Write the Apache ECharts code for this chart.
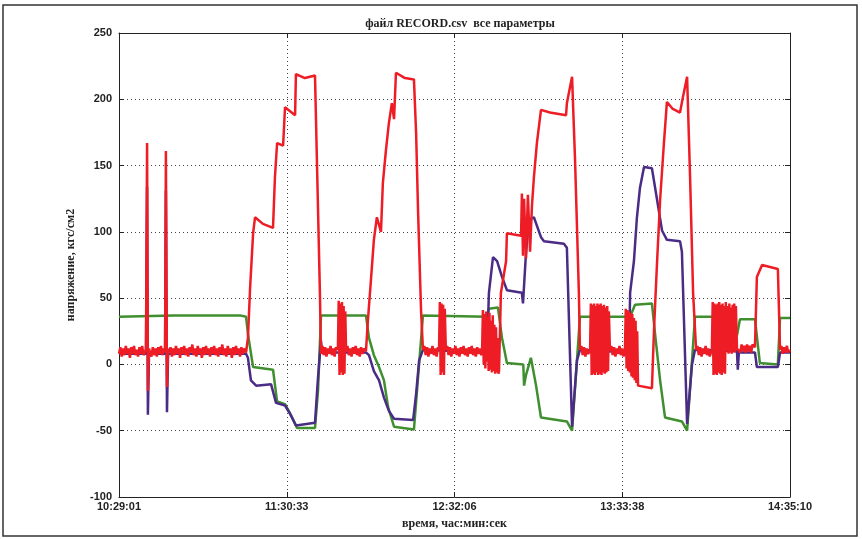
<!DOCTYPE html>
<html>
<head>
	<meta charset="utf-8">
	<title>RECORD.csv</title>
	<script src="https://cdn.jsdelivr.net/npm/echarts@6/dist/echarts.min.js"></script>
	<style>
	html, body { margin: 0; height: 100%; background: #fff; }
	#main { width: 862px; height: 539px; }
	</style>
</head>
<body>
	<div id="main"></div>
	<script>
		// время в минутах от 10:29:01, значения в кгс/см2
		var startSec = 10 * 3600 + 29 * 60 + 1;
		var xMax = 246.15;
		var xTickStep = 61.5375;
		var yTicks = [-100, -50, 0, 50, 100, 150, 200, 250];

		var green = [
			[0,36],[20,37],[44.4,37],[46.6,36],[47.3,23],[49.2,-2],[56.5,-4],[58.0,-28],[60.9,-30],
			[63.5,-40],[65.3,-48],[71.9,-48],[73.0,-20],[74.1,37],[90.6,37],[91.7,20],[93.5,7],
			[95.4,-2],[97.2,-12],[98.7,-32],[100.9,-47],[108.2,-49],[109.7,-10],[111.5,37],[135.0,36],
			[135.7,42],[139.0,43],[140.5,20],[142.3,1],[148.3,0],[148.6,-16],[149.3,-8],[151.1,5],
			[153.0,-16],[154.8,-40],[164.3,-43],[166.2,-50],[168.0,3],[169.1,36],[187.5,36],[189.3,45],
			[195.5,46],[196.6,24],[198.5,-12],[200.3,-40],[206.5,-43],[208.4,-50],[210.2,3],[211.3,36],
			[223.0,36],[224.5,20],[226.7,22],[227.8,34],[233.3,34],[235.1,1],[241.7,0],[242.5,35],[246.15,35]
		];

		var purple = [
			[0,8],[9.9,8],[10.3,134],[10.6,-38],[11.0,8],[16.9,8],[17.2,131],[17.6,-36],[18.0,8],
			[46.6,8],[47.3,5],[48.4,-12],[50.3,-16],[55.8,-15],[57.6,-29],[60.9,-31],[62.7,-37],
			[64.9,-46],[71.9,-44],[73.0,-10],[74.1,18],[74.5,9],[90.6,9],[91.7,7],[93.5,-5],[95.4,-12],
			[97.2,-25],[99.0,-35],[100.9,-41],[107.9,-42],[109.0,-22],[110.1,3],[111.5,11],[135.0,9],
			[135.7,54],[137.2,81],[138.7,78],[140.5,66],[142.3,56],[147.8,54],[148.2,46],[149.3,84],
			[150.4,109],[152.2,111],[154.8,96],[155.9,93],[163.2,91],[164.3,88],[166.2,-47],[168.0,3],
			[169.1,11],[187.1,9],[187.5,54],[188.9,78],[190.0,111],[191.1,133],[192.6,149],[195.5,148],
			[197.4,124],[199.2,101],[201.0,94],[205.8,93],[206.5,85],[208.4,-45],[210.2,0],[211.3,11],
			[226.7,10],[227.0,-4],[227.4,9],[233.3,9],[234.0,-2],[241.7,-2],[242.5,9],[246.15,9]
		];

		var red = [
			[0,8],[0.5,13],[1.0,6],[1.5,12],[2.0,7],[2.5,14],[3.0,8],[3.5,12],[4.0,5],[4.5,13],[5.0,8],
			[5.5,14],[6.0,7],[6.5,11],[7.0,6],[7.5,13],[8.0,8],[8.5,14],[9.0,7],[9.5,9],[9.9,12],
			[10.3,167],[10.6,-20],[11.0,12],[11.4,9],
			[11.9,6],[12.4,13],[12.9,7],[13.4,12],[13.9,6],[14.4,13],[14.9,8],[15.4,14],[15.9,7],[16.4,12],[16.9,9],
			[17.2,161],[17.6,-17],[18.0,12],[18.4,9],[18.9,13],[19.4,6],[19.9,12],[20.4,7],[20.9,14],
			[21.4,8],[21.9,12],[22.4,5],[22.9,13],[23.4,8],[23.9,14],[24.4,7],[24.9,12],[25.4,6],
			[25.9,13],[26.4,9],[26.9,15],[27.4,7],[27.9,12],[28.4,6],[28.9,14],[29.4,8],[29.9,12],
			[30.4,5],[30.9,13],[31.4,7],[31.9,14],[32.4,8],[32.9,12],[33.4,6],[33.9,13],[34.4,8],
			[34.9,14],[35.4,7],[35.9,12],[36.4,6],[36.9,13],[37.4,8],[37.9,15],[38.4,7],[38.9,12],
			[39.4,6],[39.9,14],[40.4,8],[40.9,12],[41.4,5],[41.9,13],[42.4,7],[42.9,14],[43.4,8],
			[43.9,12],[44.4,6],[44.9,13],[45.4,8],[45.9,12],[46.6,9],
			[47.3,20],[48.1,58],[49.2,99],[49.9,111],[52.8,106],[56.5,103],[57.2,141],[58.0,167],
			[60.2,165],[60.9,194],[64.6,188],[64.9,219],[68.2,216],[71.9,218],[72.6,154],[73.7,54],
			[74.1,8],[74.6,14],[75.1,7],[75.6,13],[76.1,6],[76.6,12],[77.1,8],[77.6,14],[78.1,7],
			[78.6,12],[79.1,6],[79.6,13],[80.3,11],
			[80.6,48],[80.9,-8],[81.2,46],[81.5,-6],[81.8,47],[82.1,-8],[82.4,44],[82.7,-7],[83.0,40],[83.3,10],
			[83.8,14],[84.3,7],[84.8,12],[85.3,6],[85.8,13],[86.3,8],[86.8,14],[87.3,7],[87.8,12],
			[88.3,6],[88.8,13],[89.3,8],[89.8,12],[90.6,10],
			[91.3,33],[92.4,63],[93.5,94],[94.6,111],[96.1,100],[96.8,137],[97.9,161],[99.0,182],
			[100.1,197],[100.9,185],[101.6,220],[104.9,216],[108.2,215],[109.0,174],[109.7,116],
			[110.8,41],[111.5,11],[112.0,14],[112.5,7],[113.0,13],[113.5,6],[114.0,12],[114.5,8],
			[115.0,14],[115.5,7],[116.0,12],[116.5,6],[117.0,13],[117.4,11],
			[117.7,47],[118.0,-8],[118.3,46],[118.6,-6],[118.9,45],[119.2,-8],[119.5,42],[119.9,11],
			[120.4,14],[120.9,7],[121.4,13],[121.9,6],[122.4,12],[122.9,8],[123.4,14],[123.9,7],
			[124.4,12],[124.9,6],[125.4,13],[125.9,8],[126.4,14],[126.9,7],[127.4,12],[127.9,6],
			[128.4,13],[128.9,8],[129.4,14],[129.9,7],[130.4,12],[130.9,6],[131.4,13],[131.9,8],
			[132.4,12],[132.9,7],[133.2,10],
			[133.5,41],[133.8,0],[134.1,38],[134.4,-3],[134.7,40],[135.0,2],[135.3,36],[135.6,-5],
			[135.9,39],[136.2,-4],[136.5,33],[136.8,-6],[137.1,37],[137.4,-5],[137.7,30],[138.0,-7],
			[138.3,28],[138.6,-6],[138.9,20],[139.2,-7],[139.4,-5],
			[140.1,54],[142.0,78],[142.3,99],[147.5,97],[147.8,129],[148.2,82],[148.6,125],
			[149.3,80],[150.0,128],[150.8,85],[151.5,120],[152.2,141],[153.3,167],[154.8,192],
			[158.1,190],[164.0,188],[164.3,197],[166.2,217],[167.3,154],[168.7,54],[169.1,11],
			[169.6,14],[170.1,7],[170.6,13],[171.1,6],[171.6,12],[172.1,8],[172.8,10],
			[173.1,46],[173.4,-8],[173.7,45],[174.0,-7],[174.3,46],[174.6,-8],[174.9,44],[175.2,-6],
			[175.5,46],[175.8,-8],[176.1,45],[176.4,-7],[176.7,46],[177.0,-8],[177.3,44],[177.6,-6],
			[177.9,45],[178.2,-7],[178.5,43],[178.8,-6],[179.1,44],[179.4,-5],[179.7,40],[180.1,10],
			[180.6,14],[181.1,7],[181.6,13],[182.1,6],[182.6,12],[183.1,8],[183.6,14],[184.1,7],
			[184.6,12],[185.1,6],[185.6,10],
			[185.9,42],[186.2,-3],[186.5,41],[186.8,-5],[187.1,40],[187.4,-6],[187.7,39],[188.0,-9],
			[188.3,38],[188.6,-10],[188.9,35],[189.2,-12],[189.5,33],[189.8,-14],[190.1,25],[190.4,-16],
			[190.8,-17],[195.5,-18],[196.3,28],[197.4,78],[198.5,124],[199.9,167],[201.0,198],[203.0,193],
			[205.8,190],[206.9,202],[208.4,217],[209.5,141],[210.6,54],[211.7,11],
			[212.2,14],[212.7,7],[213.2,13],[213.7,6],[214.2,12],[214.7,8],[215.2,14],[215.7,7],
			[216.2,12],[216.7,6],[217.5,11],
			[217.8,47],[218.1,-8],[218.4,46],[218.7,-7],[219.0,45],[219.3,-8],[219.6,46],[219.9,-6],
			[220.2,47],[220.5,-7],[220.8,45],[221.1,-8],[221.4,46],[221.7,-6],[222.0,44],[222.3,-7],
			[222.6,47],[223.0,10],[223.3,44],[223.6,8],[223.9,46],[224.2,9],[224.5,43],[224.8,8],
			[225.1,45],[225.4,10],[225.7,46],[226.0,9],[226.3,44],[226.7,12],[227.4,13],
			[227.9,9],[228.4,15],[228.9,10],[229.4,14],[229.9,9],[230.4,15],[230.9,10],[231.4,14],
			[231.9,9],[232.4,15],[233.3,13],[234.0,66],[235.9,75],[241.7,72],[242.5,11],
			[243.0,14],[243.5,8],[244.0,13],[244.5,9],[245.0,14],[245.5,9],[246.15,11]
		];

		function fmtTime(m) {
			var s = Math.round(startSec + m * 60);
			var h = Math.floor(s / 3600), mi = Math.floor(s / 60) % 60, se = s % 60;
			return h + ':' + (mi < 10 ? '0' : '') + mi + ':' + (se < 10 ? '0' : '') + se;
		}

		var myChart = echarts.init(document.getElementById('main'));

		var dotted = { show: true, lineStyle: { color: '#444', type: [1, 3], width: 1 } };
		var tickLabel = { fontFamily: 'Liberation Sans', fontWeight: 'bold', fontSize: 11, color: '#222' };
		var nameFont = { fontFamily: 'Liberation Serif', fontWeight: 'bold', fontSize: 12, color: '#222' };
		var frameLine = { show: true, onZero: false, lineStyle: { color: '#222', width: 1 } };
		var inTick = { show: true, inside: true, length: 5, lineStyle: { color: '#222' } };

		var option = {
			animation: false,
			backgroundColor: '#fff',
			title: {
				text: 'файл RECORD.csv  все параметры',
				left: 455, top: 13, textAlign: 'center',
				textStyle: { fontFamily: 'Liberation Serif', fontWeight: 'bold', fontSize: 12, color: '#222' }
			},
			graphic: [{
				type: 'rect', shape: { x: 3, y: 5, width: 854, height: 531 },
				style: { fill: 'none', stroke: '#333', lineWidth: 1.5 }, silent: true
			}],
			grid: { left: 119, right: 72, top: 33, bottom: 42 },
			xAxis: [{
				type: 'value', min: 0, max: xMax, interval: xTickStep,
				name: 'время, час:мин:сек', nameLocation: 'middle', nameGap: 21,
				nameTextStyle: nameFont,
				axisLine: frameLine, axisTick: inTick,
				axisLabel: Object.assign({ margin: 4, formatter: fmtTime }, tickLabel),
				splitLine: dotted
			}, {
				type: 'value', position: 'top', min: 0, max: xMax, interval: xTickStep,
				axisLine: frameLine, axisTick: inTick,
				axisLabel: { show: false }, splitLine: { show: false }
			}],
			yAxis: [{
				type: 'value', min: yTicks[0], max: yTicks[yTicks.length - 1], interval: 50,
				name: 'напряжение, кгс/см2', nameLocation: 'middle', nameGap: 42, nameRotate: 90,
				nameTextStyle: nameFont,
				axisLine: frameLine, axisTick: inTick,
				axisLabel: Object.assign({ margin: 7 }, tickLabel),
				splitLine: dotted
			}, {
				type: 'value', position: 'right', min: yTicks[0], max: yTicks[yTicks.length - 1], interval: 50,
				axisLine: frameLine, axisTick: inTick,
				axisLabel: { show: false }, splitLine: { show: false }
			}],
			series: [
				{ type: 'line', name: 'p3', data: green, showSymbol: false, z: 2,
				  lineStyle: { color: '#3f8f2f', width: 2.5 } },
				{ type: 'line', name: 'p2', data: purple, showSymbol: false, z: 3,
				  lineStyle: { color: '#4a2b86', width: 2.5 } },
				{ type: 'line', name: 'p1', data: red, showSymbol: false, z: 4,
				  lineStyle: { color: '#ee1c25', width: 2.5 } }
			]
		};
		myChart.setOption(option);
	</script>
</body>
</html>
